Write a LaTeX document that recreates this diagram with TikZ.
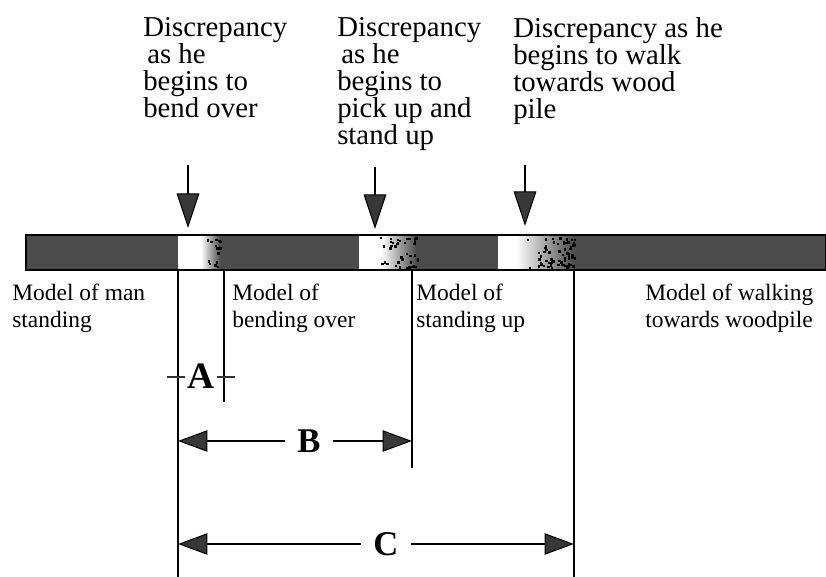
\documentclass[tikz,border=0pt]{standalone}
\usepackage{fontspec}
\setmainfont{Liberation Serif}
\usetikzlibrary{arrows.meta}

% scattered dark specks that thicken towards the right end of a strip
\newcommand\speckle[3]{%
  \foreach \k in {1,...,#3}{%
    \pgfmathsetmacro\sx{#1+(#2-#1)*sqrt(rnd)}%
    \pgfmathsetmacro\sy{236.5+31*rnd}%
    \fill[black] (\sx,\sy) rectangle ++(2.4,2.4);
  }}

\begin{document}
\begin{tikzpicture}[x=0.75pt,y=-0.75pt,
  toplabel/.style={anchor=north west, inner sep=0pt, align=left,
    font=\fontsize{21.6pt}{20.25pt}\selectfont},
  modellabel/.style={anchor=north west, inner sep=0pt, align=left,
    font=\fontsize{17.6pt}{19.9pt}\selectfont},
  dimlabel/.style={font=\fontsize{26pt}{30pt}\selectfont\bfseries,
    inner xsep=9pt, inner ysep=0pt},
  marker/.style={line width=1.5pt},
  tickmark/.style={line width=1.6pt, black!80},
  pointer/.style={line width=1.5pt,
    -{Triangle[length=26pt,width=17pt,fill=black!78,line width=0.8pt]}},
  dimarrow/.style={line width=1.5pt,
    -{Triangle[length=22pt,width=16pt,fill=black!78,line width=0.8pt]}},
]
\useasboundingbox (0,0) rectangle (826,577);

% ---- the time bar ----
\fill[black!70] (26,235) rectangle (826,270);
% discrepancy windows: white, then fading back into the model band
\fill[white] (178,235) rectangle (201,270);
\shade[left color=white, right color=black!70] (201,235) rectangle (220,270);
\fill[white] (359,235) rectangle (381,270);
\shade[left color=white, right color=black!70] (381,235) rectangle (416,270);
\fill[white] (498,235) rectangle (516,270);
\shade[left color=white, right color=black!70] (516,235) rectangle (573,270);
\pgfmathsetseed{17}
\speckle{199}{221}{14}
\speckle{376}{417}{40}
\speckle{512}{574}{70}
\draw[line width=1pt] (26,235) rectangle (825.5,270);

% ---- boundaries between models ----
\coordinate (l1) at (178,270);
\coordinate (l2) at (224,270);
\coordinate (l3) at (412,270);
\coordinate (l4) at (574,270);
\coordinate (l1end) at (178,577);
\coordinate (l2end) at (224,402);
\coordinate (l3end) at (412,468);
\coordinate (l4end) at (574,577);
\draw[marker] (l1) -- (l1end);
\draw[marker] (l2) -- (l2end);
\draw[marker] (l3) -- (l3end);
\draw[marker] (l4) -- (l4end);

% ---- discrepancy captions and pointers ----
\node[toplabel] (d1) at (143,17)
  {Discrepancy\\\hspace*{3pt}as he\\begins to\\bend over};
\node[toplabel] (d2) at (337,17)
  {Discrepancy\\\hspace*{3pt}as he\\begins to\\pick up and\\stand up};
\node[toplabel] (d3) at (513,17)
  {Discrepancy as he\\begins to walk\\towards wood\\pile};

\coordinate (p1) at (188,165);
\coordinate (q1) at (188,228);
\coordinate (p2) at (375,167);
\coordinate (q2) at (375,229);
\coordinate (p3) at (525,165);
\coordinate (q3) at (525,226);
\draw[pointer] (p1) -- (q1);
\draw[pointer] (p2) -- (q2);
\draw[pointer] (p3) -- (q3);

% ---- model names ----
\node[modellabel] (m1) at (12,284) {Model of man\\standing};
\node[modellabel] (m2) at (232,284) {Model of\\bending over};
\node[modellabel] (m3) at (416,284) {Model of\\standing up};
\node[modellabel] (m4) at (645,284) {Model of walking\\towards woodpile};

% ---- intervals A, B, C ----
\node[dimlabel, font=\fontsize{28pt}{32pt}\selectfont\bfseries] (A) at (201,376) {A};
\draw[tickmark] (167,377) -- (185,377);
\draw[tickmark] (217,377) -- (235,377);

\node[dimlabel] (B) at (309,441) {B};
\draw[dimarrow] (B.west) -- (B.west -| l1);
\draw[dimarrow] (B.east) -- (B.east -| l3);

\node[dimlabel] (C) at (386,544) {C};
\draw[dimarrow] (C.west) -- (C.west -| l1);
\draw[dimarrow] (C.east) -- (C.east -| l4);
\end{tikzpicture}
\end{document}
